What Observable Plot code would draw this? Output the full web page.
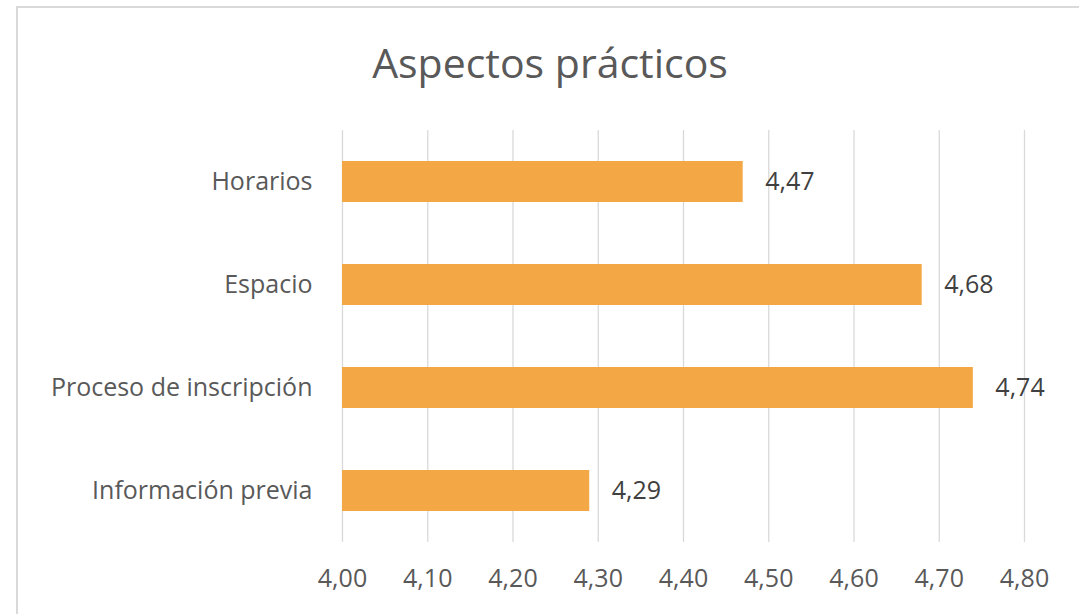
<!DOCTYPE html>
<html>
<head>
<meta charset="utf-8">
<script src="https://cdn.jsdelivr.net/npm/d3@7"></script>
<script src="https://cdn.jsdelivr.net/npm/@observablehq/plot@0.6"></script>
<style>
  html, body { margin: 0; padding: 0; background: #fff; }
  body { width: 1079px; height: 614px; overflow: hidden; position: relative; font-family: "Open Sans", "Noto Sans", sans-serif; }
  #frame { position: absolute; left: 16px; top: 6px; width: 1100px; height: 700px; border-top: 2px solid #d9d9d9; border-left: 2px solid #d9d9d9; box-sizing: border-box; }
  #title { position: absolute; left: 0; top: 34px; width: 1100px; height: 56px; text-align: center; line-height: 56px; font-size: 41px; color: #595959; font-weight: 400; white-space: nowrap; }
  #chart { position: absolute; left: 0; top: 110px; }
  #chart svg text { font-family: "Open Sans", "Noto Sans", sans-serif; }
</style>
</head>
<body>
<div id="frame"></div>
<div id="title">Aspectos prácticos</div>
<div id="chart"></div>
<script>
const categories = ["Horarios", "Espacio", "Proceso de inscripción", "Información previa"];
const values = [4.47, 4.68, 4.74, 4.29];
const xTicks = [4.0, 4.1, 4.2, 4.3, 4.4, 4.5, 4.6, 4.7, 4.8];

const data = categories.map((c, i) => ({category: c, value: values[i]}));
const loc = d3.formatLocale({decimal: ",", thousands: ".", grouping: [3], currency: ["", "€"]});
const fmt = loc.format(".2f");

const chart = Plot.plot({
  width: 1079,
  height: 504,
  marginLeft: 342,
  marginRight: 55,
  marginTop: 20,
  marginBottom: 72,
  style: {fontFamily: "'Open Sans', 'Noto Sans', sans-serif", fontSize: "25px", color: "#595959", background: "transparent", overflow: "visible"},
  x: {domain: [4.0, 4.8], label: null},
  y: {domain: categories, paddingInner: 0.6, paddingOuter: 0.3, label: null},
  marks: [
    Plot.ruleX(xTicks, {stroke: "#d9d9d9", strokeWidth: 1.3, strokeOpacity: 1}),
    Plot.barX(data, {x1: 4.0, x2: "value", y: "category", fill: "#F4A845"}),
    Plot.axisX({ticks: xTicks, tickFormat: fmt, tickSize: 0, tickPadding: 27, fontSize: 25, fill: "#595959", label: null}),
    Plot.axisY({tickSize: 0, tickPadding: 30, fontSize: 25, fill: "#595959", label: null}),
    Plot.text(data, {x: "value", y: "category", text: d => fmt(d.value), textAnchor: "start", dx: 22, fill: "#404040", fontSize: 25})
  ]
});
document.getElementById("chart").appendChild(chart);
</script>
</body>
</html>
